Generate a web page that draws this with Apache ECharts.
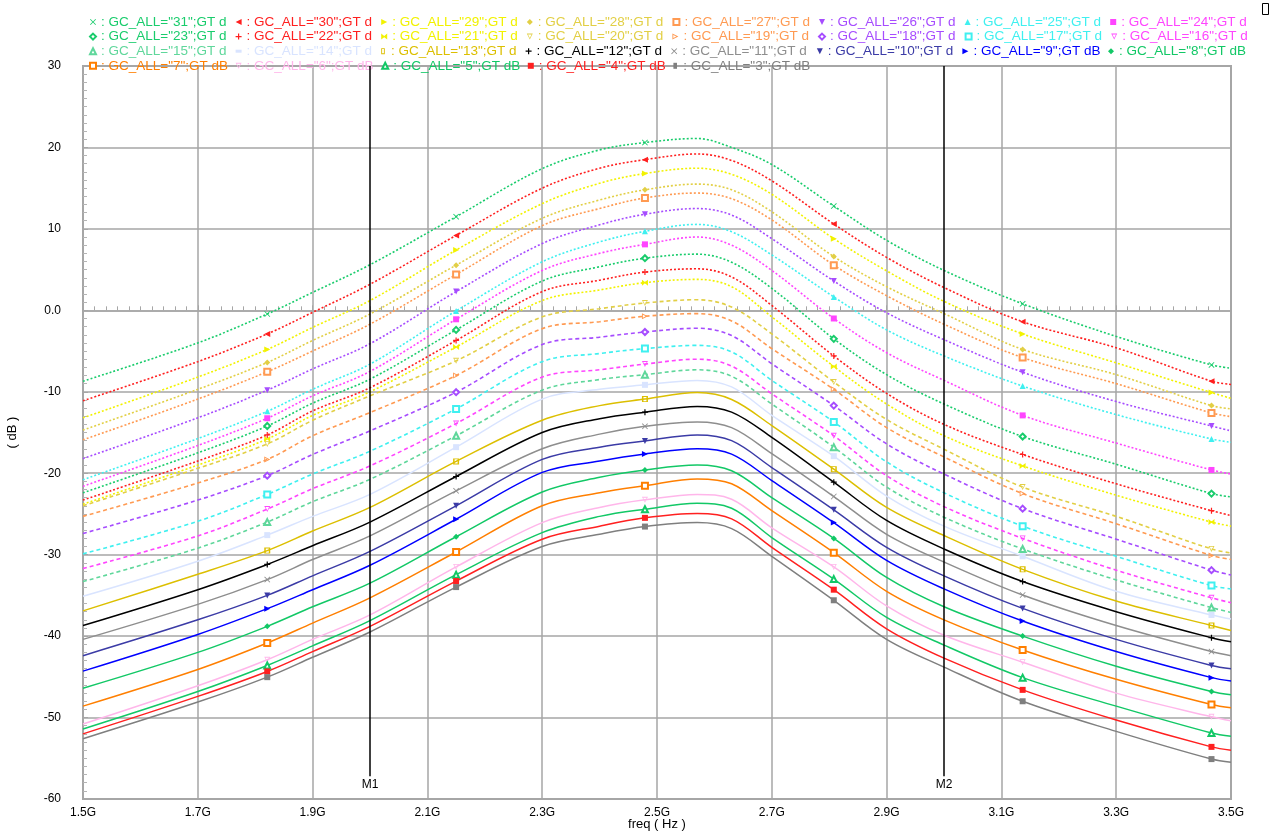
<!DOCTYPE html>
<html>
<head>
<meta charset="utf-8">
<title>GC_ALL sweep — gain vs. frequency</title>
<script src="https://cdn.jsdelivr.net/npm/echarts@6/dist/echarts.min.js"></script>
<style>
  html, body { margin: 0; padding: 0; background: #ffffff; overflow: hidden; }
  #chart { width: 1278px; height: 832px; }
</style>
</head>
<body>
<div id="chart"></div>
<script>
// Frequency sample points (GHz) shared by every curve
const freqGHz = [1.5, 1.7, 1.821, 1.9, 2.0, 2.15, 2.3, 2.4, 2.479, 2.57, 2.63, 2.7, 2.808, 2.9, 3.0, 3.137, 3.3, 3.466, 3.5];
// Indices of freqGHz where each curve carries its symbol
const symbolIdx = [2, 5, 8, 12, 15, 17];

// Gain (dB) per GC_ALL code
const gc31 = [-8.7, -4.0, -0.45, 2.2, 5.6, 11.5, 17.4, 19.7, 20.6, 21.1, 20.0, 17.9, 12.8, 8.6, 4.9, 0.8, -3.2, -6.7, -7.1];
const gc30 = [-11.1, -6.3, -2.9, -0.25, 3.2, 9.2, 15.0, 17.45, 18.5, 19.2, 18.4, 15.9, 10.6, 6.5, 2.8, -1.4, -4.6, -8.7, -9.1];
const gc29 = [-13.2, -8.2, -4.8, -2.1, 1.2, 7.4, 13.1, 15.6, 16.8, 17.45, 16.7, 14.25, 8.8, 4.85, 1.1, -2.9, -6.45, -10.1, -10.8];
const gc28 = [-14.7, -9.7, -6.4, -3.7, -0.45, 5.55, 11.3, 13.55, 14.8, 15.5, 14.8, 12.1, 6.6, 2.9, -0.4, -4.8, -7.9, -11.7, -12.1];
const gc27 = [-15.9, -10.9, -7.55, -5.0, -1.7, 4.4, 10.4, 12.5, 13.8, 14.4, 13.7, 11.1, 5.55, 1.8, -1.7, -5.8, -9.0, -12.6, -13.05];
const gc26 = [-18.2, -13.2, -9.8, -7.2, -4.1, 2.3, 8.2, 10.5, 11.8, 12.5, 11.7, 8.8, 3.6, -0.3, -3.6, -7.6, -11.2, -14.2, -14.8];
const gc25 = [-20.8, -15.75, -12.4, -9.7, -6.6, -0.07, 5.96, 8.4, 9.7, 10.55, 9.65, 6.8, 1.65, -2.4, -5.6, -9.3, -12.8, -15.8, -16.2];
const gc24 = [-21.6, -16.6, -13.25, -10.5, -7.5, -1.1, 4.9, 7.0, 8.1, 9.0, 8.0, 4.9, -1.0, -5.2, -8.6, -12.9, -16.3, -19.6, -20.1];
const gc23 = [-22.4, -17.5, -14.2, -11.4, -8.45, -2.4, 3.6, 5.35, 6.4, 6.9, 5.9, 2.7, -3.5, -7.9, -11.5, -15.5, -18.9, -22.5, -22.9];
const gc22 = [-23.3, -18.5, -15.3, -12.35, -9.5, -3.7, 2.3, 3.7, 4.7, 5.1, 4.1, 0.6, -5.6, -10.2, -14.0, -17.7, -21.3, -24.6, -25.2];
const gc21 = [-23.8, -19.0, -15.8, -12.9, -10.0, -4.5, 1.2, 2.5, 3.4, 3.8, 2.9, -0.8, -6.9, -11.5, -15.4, -19.1, -22.7, -26.0, -26.5];
const gc20 = [-24.0, -19.4, -16.4, -13.5, -10.5, -6.2, -0.8, 0.2, 0.9, 1.3, 0.4, -2.9, -8.8, -13.4, -17.05, -21.7, -25.3, -29.3, -29.8];
const gc19 = [-25.3, -21.2, -18.3, -15.4, -12.55, -8.0, -2.25, -1.4, -0.73, -0.4, -1.3, -4.7, -9.7, -14.4, -18.0, -22.5, -26.2, -30.1, -30.6];
const gc18 = [-27.4, -23.3, -20.3, -17.7, -14.8, -10.05, -4.2, -3.3, -2.66, -2.2, -3.1, -6.56, -11.7, -16.4, -20.1, -24.35, -28.1, -31.9, -32.5];
const gc17 = [-29.9, -25.9, -22.6, -20.1, -17.3, -12.1, -6.3, -5.3, -4.7, -4.3, -5.1, -8.6, -13.7, -18.6, -22.4, -26.5, -30.2, -33.8, -34.2];
const gc16 = [-31.7, -27.7, -24.4, -21.9, -19.1, -13.9, -8.2, -7.3, -6.6, -6.0, -6.85, -10.25, -15.4, -20.3, -24.1, -28.0, -31.9, -35.3, -35.9];
const gc15 = [-33.3, -29.2, -26.0, -23.5, -20.75, -15.4, -9.8, -8.5, -7.9, -7.3, -8.1, -11.5, -16.8, -21.7, -25.4, -29.3, -33.1, -36.5, -37.1];
const gc14 = [-35.1, -30.8, -27.6, -25.3, -22.6, -16.8, -10.9, -9.7, -9.15, -8.6, -9.4, -12.9, -17.9, -22.8, -26.5, -30.2, -34.5, -37.4, -37.9];
const gc13 = [-36.9, -32.4, -29.5, -27.1, -24.2, -18.55, -13.5, -11.7, -10.9, -10.1, -10.95, -14.15, -19.5, -24.2, -27.65, -31.8, -35.7, -38.7, -39.3];
const gc12 = [-38.7, -34.3, -31.2, -28.9, -26.0, -20.4, -15.0, -13.3, -12.5, -11.8, -12.5, -15.6, -21.1, -25.8, -29.3, -33.3, -37.0, -40.2, -40.7];
const gc11 = [-40.4, -36.1, -33.06, -30.6, -27.7, -22.16, -17.0, -15.2, -14.24, -13.7, -14.4, -17.6, -22.86, -27.5, -30.9, -34.95, -38.7, -41.9, -42.4];
const gc10 = [-42.4, -38.0, -35.0, -32.6, -29.6, -24.0, -18.3, -16.8, -16.04, -15.3, -16.0, -19.3, -24.5, -29.1, -32.6, -36.6, -40.4, -43.6, -44.0];
const gc9  = [-44.3, -39.8, -36.63, -34.3, -31.3, -25.65, -19.9, -18.5, -17.64, -17.0, -17.65, -20.9, -26.06, -30.7, -34.2, -38.15, -41.9, -45.1, -45.5];
const gc8  = [-46.4, -42.0, -38.8, -36.4, -33.5, -27.8, -22.3, -20.5, -19.6, -19.0, -19.7, -23.0, -28.0, -32.8, -36.4, -40.0, -43.7, -46.8, -47.2];
const gc7  = [-48.6, -44.1, -40.85, -38.4, -35.3, -29.67, -24.0, -22.4, -21.54, -20.7, -21.3, -24.6, -29.75, -34.5, -38.0, -41.7, -45.3, -48.4, -48.8];
const gc6  = [-50.8, -46.1, -42.9, -40.4, -37.4, -31.5, -26.06, -24.2, -23.27, -22.6, -23.2, -26.7, -31.5, -36.3, -39.9, -43.2, -47.0, -49.9, -50.4];
const gc5  = [-51.4, -46.8, -43.6, -41.2, -38.1, -32.46, -27.3, -25.3, -24.42, -23.7, -24.3, -27.9, -33.0, -37.7, -41.1, -45.1, -48.6, -51.9, -52.3];
const gc4  = [-52.0, -47.4, -44.34, -41.9, -38.8, -33.24, -28.1, -26.5, -25.48, -24.95, -25.6, -29.1, -34.3, -39.1, -42.7, -46.6, -50.3, -53.6, -54.0];
const gc3  = [-52.6, -48.1, -45.04, -42.6, -39.5, -33.98, -29.0, -27.5, -26.55, -26.06, -26.8, -30.2, -35.6, -40.4, -43.8, -48.0, -51.7, -55.1, -55.5];

const gcCodes = [31, 30, 29, 28, 27, 26, 25, 24, 23, 22, 21, 20, 19, 18, 17, 16, 15, 14, 13, 12, 11, 10, 9, 8, 7, 6, 5, 4, 3];
const gcCurves = [gc31, gc30, gc29, gc28, gc27, gc26, gc25, gc24, gc23, gc22, gc21, gc20, gc19, gc18, gc17, gc16,
                  gc15, gc14, gc13, gc12, gc11, gc10, gc9, gc8, gc7, gc6, gc5, gc4, gc3];

// Marker lines
const markerFreqs = [2.0, 3.0];
const markerNames = ['M1', 'M2'];

// ---- styling ----
const GREEN = '#19cc6c', RED = '#ff1f1f', YELLOW = '#f2f200', OLIVE = '#e2cf45',
      ORANGE = '#ff9a52', PURPLE = '#a64cff', CYAN = '#3ff0f0', MAGENTA = '#ff45ff';
const curveColors = [
  GREEN, RED, YELLOW, OLIVE, ORANGE, PURPLE, CYAN, MAGENTA,
  GREEN, RED, YELLOW, OLIVE, ORANGE, PURPLE, CYAN, MAGENTA,
  '#5fd79b', '#d9e4ff', '#dcbf00', '#000000', '#8e8e8e', '#3b3ba6', '#0000ff', '#12c866',
  '#ff7f00', '#ffb6ea', '#12c866', '#ff2020', '#7f7f7f'
];

const SYM = {
  cross: 'path://M1,0L5,4L9,0L10,1L6,5L10,9L9,10L5,6L1,10L0,9L4,5L0,1Z',
  plus: 'path://M4,0H6V4H10V6H6V10H4V6H0V4H4Z',
  left: 'path://M10,0L0,5L10,10Z',
  right: 'path://M0,0L10,5L0,10Z',
  down: 'path://M0,0H10L5,10Z',
  downHollow: 'path://M0,0H10L5,10Z M2,1.5L5,7.5L8,1.5Z',
  rightHollow: 'path://M0,0L10,5L0,10Z M1.5,2.5L1.5,7.5L6.5,5Z',
  wide: 'path://M0,0H10V5H0Z',
  tall: 'path://M0,0H6V10H0Z',
  tallHollow: 'path://M0,0H6V10H0Z M1.5,1.5V8.5H4.5V1.5Z',
  bow: 'path://M0,0L5,4L10,0V10L5,6L0,10Z'
};
const curveSymbols = [
  SYM.cross, SYM.left, SYM.right, 'diamond', 'emptyRect', SYM.down, 'triangle', 'rect',
  'emptyDiamond', SYM.plus, SYM.bow, SYM.downHollow, SYM.rightHollow, 'emptyDiamond', 'emptyRect', SYM.downHollow,
  'emptyTriangle', SYM.wide, SYM.tallHollow, SYM.plus, SYM.cross, SYM.down, SYM.right, 'diamond',
  'emptyRect', SYM.downHollow, 'emptyTriangle', 'rect', SYM.tall
];

const FONT = '"Liberation Sans", "DejaVu Sans", sans-serif';

const seriesList = gcCodes.map((code, i) => {
  const vals = gcCurves[i];
  const name = 'GC_ALL="' + code + '";GT dB';
  const dotted = i < 17;
  const data = freqGHz.map((f, j) =>
    symbolIdx.indexOf(j) >= 0
      ? { value: [f, vals[j]], symbol: curveSymbols[i], symbolSize: 6 }
      : [f, vals[j]]
  );
  const s = {
    type: 'line',
    name: name,
    data: data,
    symbol: 'none',
    smooth: 0.35,
    z: 3,
    silent: true,
    lineStyle: {
      color: curveColors[i],
      width: dotted ? 1.6 : 1.5,
      type: dotted ? (i < 11 ? [2, 2] : [4, 3]) : 'solid'
    },
    itemStyle: { color: curveColors[i], borderWidth: 1 },
    emphasis: { disabled: true }
  };
  if (i === 0) {
    s.markLine = {
      silent: true,
      symbol: 'none',
      animation: false,
      lineStyle: { color: '#000000', width: 1.5, type: 'solid' },
      label: {
        show: true,
        position: 'start',
        distance: 2,
        color: '#000000',
        fontSize: 12,
        fontFamily: FONT,
        formatter: p => p.name
      },
      data: markerFreqs.map((f, k) => [
        { coord: [f, -57.2], name: markerNames[k] },
        { coord: [f, 30] }
      ])
    };
  }
  return s;
});

const legendData = gcCodes.map((code, i) => ({
  name: 'GC_ALL="' + code + '";GT dB',
  icon: curveSymbols[i],
  textStyle: { color: curveColors[i] }
}));

const chart = echarts.init(document.getElementById('chart'), null, { renderer: 'canvas', width: 1278, height: 832 });
chart.setOption({
  animation: false,
  backgroundColor: '#ffffff',
  grid: {
    left: 83, right: 47, top: 66, bottom: 33,
    containLabel: false,
    outerBoundsMode: 'none',
    show: true, borderColor: '#a6a6a6', borderWidth: 2, backgroundColor: 'transparent'
  },
  legend: {
    left: 84, top: 10, width: 1180,
    orient: 'horizontal',
    itemWidth: 6, itemHeight: 6, itemGap: 0.6,
    selectedMode: false,
    formatter: n => ': ' + n,
    textStyle: {
      fontFamily: FONT, fontSize: 13.5, lineHeight: 14,
      width: 134, overflow: 'truncate', ellipsis: ''
    },
    data: legendData
  },
  xAxis: {
    type: 'value',
    min: 1.5, max: 3.5, interval: 0.2,
    name: 'freq ( Hz )',
    nameLocation: 'middle',
    nameGap: 19,
    nameMoveOverlap: false,
    nameTextStyle: { color: '#000000', fontFamily: FONT, fontSize: 13 },
    axisLine: { show: true, lineStyle: { color: '#a6a6a6', width: 1.5 } },
    axisTick: { show: true, inside: true, length: 5, lineStyle: { color: '#a6a6a6' } },
    minorTick: { show: true, splitNumber: 10, length: 4, lineStyle: { color: '#a6a6a6' } },
    axisLabel: {
      color: '#000000', fontFamily: FONT, fontSize: 12, margin: 8,
      formatter: v => v.toFixed(1) + 'G'
    },
    splitLine: { show: true, lineStyle: { color: '#a6a6a6', width: 1.5 } }
  },
  yAxis: {
    type: 'value',
    min: -60, max: 30, interval: 10,
    name: '( dB )',
    nameLocation: 'middle',
    nameRotate: 90,
    nameGap: 64,
    nameMoveOverlap: false,
    nameTextStyle: { color: '#000000', fontFamily: FONT, fontSize: 13 },
    axisLine: { show: true, lineStyle: { color: '#a6a6a6', width: 1.5 } },
    axisTick: { show: true, inside: true, length: 5, lineStyle: { color: '#a6a6a6' } },
    minorTick: { show: true, splitNumber: 10, length: 4, lineStyle: { color: '#b4b4b4' } },
    axisLabel: {
      color: '#000000', fontFamily: FONT, fontSize: 12, margin: 22,
      formatter: v => (v === 0 ? '0.0' : String(v))
    },
    splitLine: { show: true, lineStyle: { color: '#a6a6a6', width: 1.5 } }
  },
  graphic: [{
    type: 'rect',
    left: 1262, top: 3,
    shape: { width: 6, height: 11 },
    style: { fill: '#ffffff', stroke: '#000000', lineWidth: 1 }
  }],
  series: seriesList
});
</script>
</body>
</html>
